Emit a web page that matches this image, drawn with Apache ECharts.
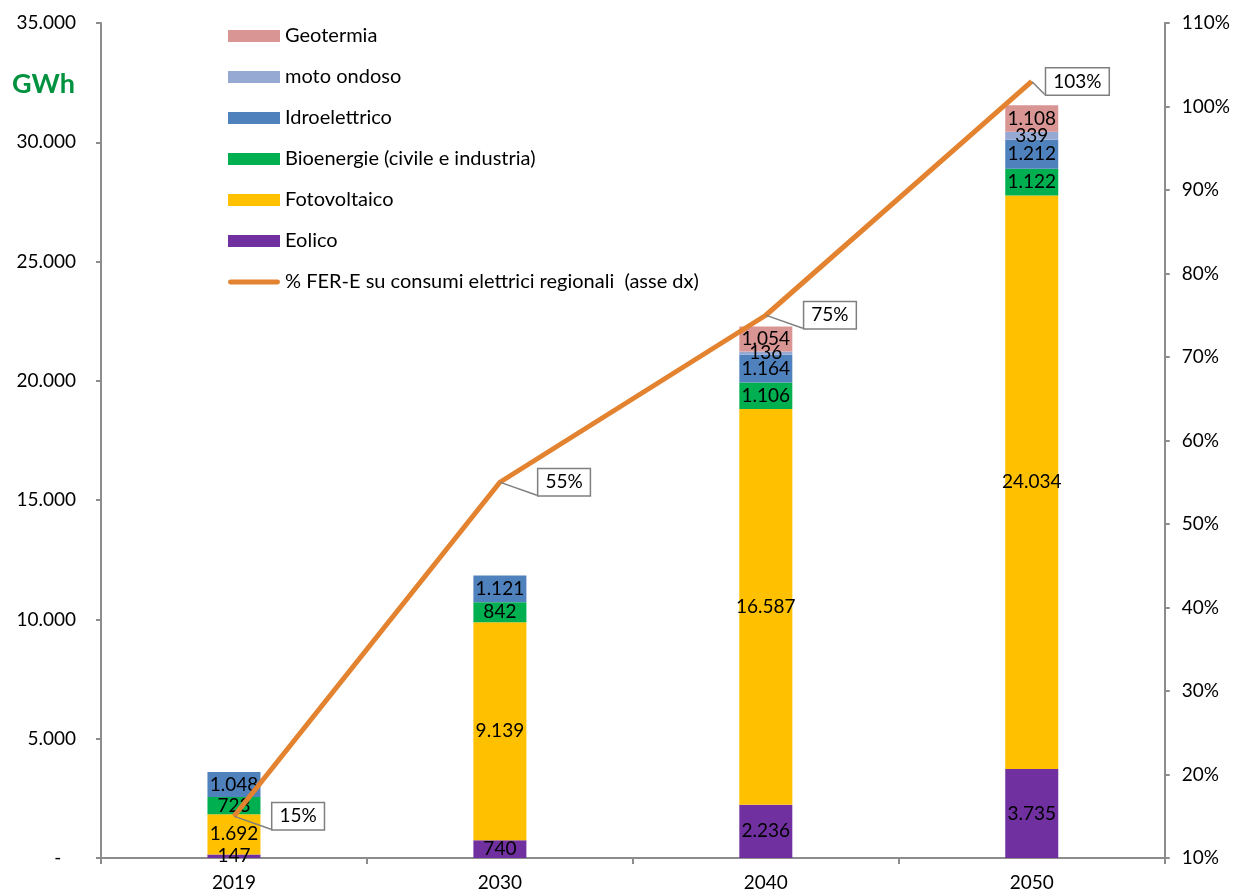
<!DOCTYPE html>
<html>
<head>
<meta charset="utf-8">
<script src="https://cdn.jsdelivr.net/npm/echarts@6/dist/echarts.min.js"></script>
<style>
  html, body { margin: 0; padding: 0; background: #fff; }
  #chart { width: 1233px; height: 895px; }
</style>
</head>
<body>
<div id="chart"></div>
<script>
// Electricity from renewable sources (GWh) by year, and share of regional consumption
const years = ['2019', '2030', '2040', '2050'];
const eolico = [147, 740, 2236, 3735];
const fotovoltaico = [1692, 9139, 16587, 24034];
const bioenergie = [723, 842, 1106, 1122];
const idroelettrico = [1048, 1121, 1164, 1212];
const motoOndoso = [0, 0, 136, 339];
const geotermia = [0, 0, 1054, 1108];
const quotaFER = [15, 55, 75, 103];

const FONT = 'Lato, "Open Sans", sans-serif';
const AXIS_GREY = '#8c8c8c';

function fmtIt(v) {
  return String(v).replace(/\B(?=(\d{3})+(?!\d))/g, '.');
}

function barSeries(name, data, color) {
  return {
    name: name,
    type: 'bar',
    stack: 'fer',
    barWidth: 53,
    data: data,
    itemStyle: { color: color },
    label: {
      show: true,
      position: 'inside',
      color: '#000',
      fontFamily: FONT,
      fontSize: 19,
      formatter: p => (p.value ? fmtIt(p.value) : '')
    }
  };
}

const chart = echarts.init(document.getElementById('chart'));

chart.setOption({
  animation: false,
  textStyle: { fontFamily: FONT },
  title: {
    text: 'GWh',
    left: 12,
    top: 71,
    padding: 0,
    textStyle: { color: '#00923F', fontSize: 27, fontWeight: 'bold', fontFamily: FONT }
  },
  grid: { left: 101, right: 67, top: 23, bottom: 37 },
  legend: {
    orient: 'vertical',
    left: 228,
    top: 26,
    padding: 0,
    itemWidth: 52,
    itemHeight: 12,
    itemGap: 21,
    itemStyle: { borderWidth: 0 },
    textStyle: { fontSize: 20, lineHeight: 20, color: '#000', fontFamily: FONT },
    data: [
      { name: 'Geotermia', icon: 'rect' },
      { name: 'moto ondoso', icon: 'rect' },
      { name: 'Idroelettrico', icon: 'rect' },
      { name: 'Bioenergie (civile e industria)', icon: 'rect' },
      { name: 'Fotovoltaico', icon: 'rect' },
      { name: 'Eolico', icon: 'rect' },
      { name: '% FER-E su consumi elettrici regionali  (asse dx)', icon: 'path://M5,0 H195 A5,5 0 0 1 195,20 H5 A5,5 0 0 1 5,0 Z' }
    ]
  },
  xAxis: {
    type: 'category',
    data: years,
    axisLine: { lineStyle: { color: AXIS_GREY, width: 2 } },
    axisTick: { show: true, length: 6, lineStyle: { color: AXIS_GREY, width: 2 } },
    axisLabel: { color: '#000', fontSize: 19, margin: 15, fontFamily: FONT }
  },
  yAxis: [
    {
      type: 'value',
      min: 0,
      max: 35000,
      interval: 5000,
      splitLine: { show: false },
      axisLine: { show: true, lineStyle: { color: AXIS_GREY, width: 2 } },
      axisTick: { show: true, length: 5, lineStyle: { color: AXIS_GREY, width: 2 } },
      axisLabel: {
        color: '#000',
        fontSize: 19,
        margin: 25,
        fontFamily: FONT,
        formatter: v => (v === 0 ? '-   ' : fmtIt(v))
      }
    },
    {
      type: 'value',
      min: 10,
      max: 110,
      interval: 10,
      position: 'right',
      splitLine: { show: false },
      axisLine: { show: true, lineStyle: { color: AXIS_GREY, width: 2 } },
      axisTick: { show: true, length: 5, lineStyle: { color: AXIS_GREY, width: 2 } },
      axisLabel: { color: '#000', fontSize: 19, margin: 17, fontFamily: FONT, formatter: '{value}%' }
    }
  ],
  series: [
    barSeries('Eolico', eolico, '#7030A0'),
    barSeries('Fotovoltaico', fotovoltaico, '#FFC000'),
    barSeries('Bioenergie (civile e industria)', bioenergie, '#00B050'),
    barSeries('Idroelettrico', idroelettrico, '#4F81BD'),
    barSeries('moto ondoso', motoOndoso, '#95A9D3'),
    barSeries('Geotermia', geotermia, '#D99594'),
    {
      name: '% FER-E su consumi elettrici regionali  (asse dx)',
      type: 'line',
      yAxisIndex: 1,
      data: quotaFER.map((v, i) => ({
        value: v,
        label: { distance: i === quotaFER.length - 1 ? 14 : 38 }
      })),
      symbol: 'circle',
      symbolSize: 1,
      z: 5,
      lineStyle: { color: '#E3822F', width: 5 },
      itemStyle: { color: '#E3822F' },
      label: {
        show: true,
        position: 'right',
        formatter: '{c}%',
        color: '#000',
        fontSize: 19,
        fontFamily: FONT,
        backgroundColor: '#fff',
        borderColor: '#7f7f7f',
        borderWidth: 1.5,
        padding: [4, 7, 3, 7]
      },
      labelLine: { show: true, lineStyle: { color: '#7f7f7f', width: 1.5 } }
    }
  ]
});
</script>
</body>
</html>
